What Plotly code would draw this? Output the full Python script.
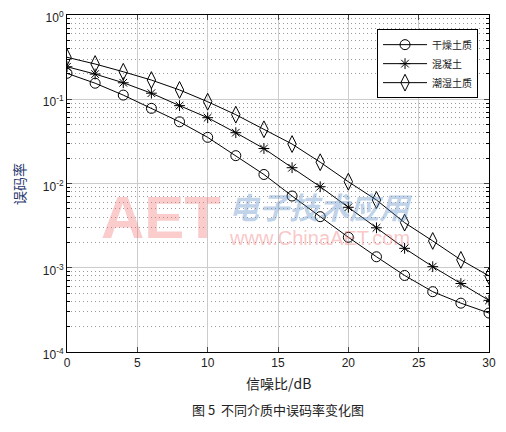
import plotly.graph_objects as go

snr = [0, 2, 4, 6, 8, 10, 12, 14, 16, 18, 20, 22, 24, 26, 28, 30]
dry = [0.203, 0.155, 0.112, 0.078, 0.054, 0.0353, 0.0214, 0.0128, 0.0071, 0.00404,
       0.00230, 0.00135, 0.00081, 0.00052, 0.00038, 0.00029]
wet = [0.243, 0.199, 0.157, 0.118, 0.084, 0.0604, 0.0401, 0.0260, 0.0154, 0.00916,
       0.00522, 0.00298, 0.00170, 0.00103, 0.00065, 0.00041]
damp = [0.315, 0.262, 0.212, 0.169, 0.129, 0.0935, 0.0656, 0.0440, 0.0294, 0.0179,
        0.0105, 0.00637, 0.00343, 0.00208, 0.00124, 0.00080]
names = ["干燥土质", "混凝土", "潮湿土质"]
xticks = [0, 5, 10, 15, 20, 25, 30]
yticks = [1e-4, 1e-3, 1e-2, 1e-1, 1]
yticktext = ["10<sup>-4</sup>", "10<sup>-3</sup>", "10<sup>-2</sup>", "10<sup>-1</sup>", "10<sup>0</sup>"]

minor_vals = [m * 10 ** e for e in range(-4, 0) for m in range(2, 10)]

cjk = "Noto Sans CJK SC"
fig = go.Figure()
symbols = ["circle-open", "asterisk-open", "diamond-tall-open"]
sizes = [10, 9, 12]
for nm, ys, sym, sz in zip(names, [dry, wet, damp], symbols, sizes):
    fig.add_trace(go.Scatter(
        x=snr, y=ys, name=nm, mode="lines+markers",
        line=dict(color="black", width=1),
        marker=dict(symbol=sym, size=sz, color="black", line=dict(width=1, color="black")),
    ))

# watermark
fig.add_annotation(x=0.075, y=0.398, xref="paper", yref="paper", text="<b>AET</b>",
                   showarrow=False, font=dict(family="Liberation Sans", size=60, color="rgba(240,110,110,0.35)"),
                   xanchor="left", yanchor="middle")
fig.add_annotation(x=0.379, y=0.433, xref="paper", yref="paper", text="<b><i>电子技术应用</i></b>",
                   showarrow=False, font=dict(family=cjk, size=30, color="rgba(90,140,195,0.4)"),
                   xanchor="left", yanchor="middle")
fig.add_annotation(x=0.379, y=0.338, xref="paper", yref="paper", text="www.ChinaAET.com",
                   showarrow=False, font=dict(family="Liberation Sans", size=20, color="rgba(240,110,110,0.4)"),
                   xanchor="left", yanchor="middle")

# titles
fig.add_annotation(x=-0.115, y=0.5, xref="paper", yref="paper", text="误码率", textangle=-90,
                   showarrow=False, font=dict(family=cjk, size=14, color="#2d3a6e"),
                   xanchor="center", yanchor="middle")
fig.add_annotation(x=0.5, y=-0.092, xref="paper", yref="paper", text="信噪比/dB",
                   showarrow=False, font=dict(family=cjk, size=14, color="#222"),
                   xanchor="center", yanchor="middle")
fig.add_annotation(x=0.5, y=-0.172, xref="paper", yref="paper", text="图 5  不同介质中误码率变化图",
                   showarrow=False, font=dict(family=cjk, size=13, color="#222"),
                   xanchor="center", yanchor="middle")

# page body has an 8px default margin, so the figure is laid out 8px smaller and shifted
fig.update_layout(
    width=498, height=424,
    margin=dict(l=59, r=17, t=7, b=80),
    paper_bgcolor="white", plot_bgcolor="white",
    showlegend=True,
    legend=dict(x=0.974, y=0.958, xanchor="right", yanchor="top",
                bgcolor="white", bordercolor="black", borderwidth=1,
                font=dict(family=cjk, size=10, color="#222"),
                tracegroupgap=0, itemwidth=44),
    font=dict(family="Liberation Sans", size=12, color="#222"),
)
fig.update_xaxes(
    range=[0, 30], tickvals=xticks, ticks="inside", ticklen=5, automargin=False,
    showline=True, linecolor="black", linewidth=1, mirror="ticks",
    showgrid=True, gridcolor="#cccccc", gridwidth=1, zeroline=False,
    tickfont=dict(size=12), ticklabeloverflow="allow",
)
fig.update_yaxes(
    type="log", range=[-4, 0], tickvals=yticks, ticktext=yticktext, automargin=False,
    ticks="inside", ticklen=5, ticklabeloverflow="allow", ticklabelshift=3,
    showline=True, linecolor="black", linewidth=1, mirror="ticks",
    showgrid=True, gridcolor="#cccccc", gridwidth=1, zeroline=False,
    tickfont=dict(size=12),
    minor=dict(tickmode="array", tickvals=minor_vals, ticks="inside", ticklen=3,
               tickcolor="black", showgrid=True, griddash="1px,3px", gridcolor="#999999", gridwidth=1),
)
fig.write_html("out.html")
